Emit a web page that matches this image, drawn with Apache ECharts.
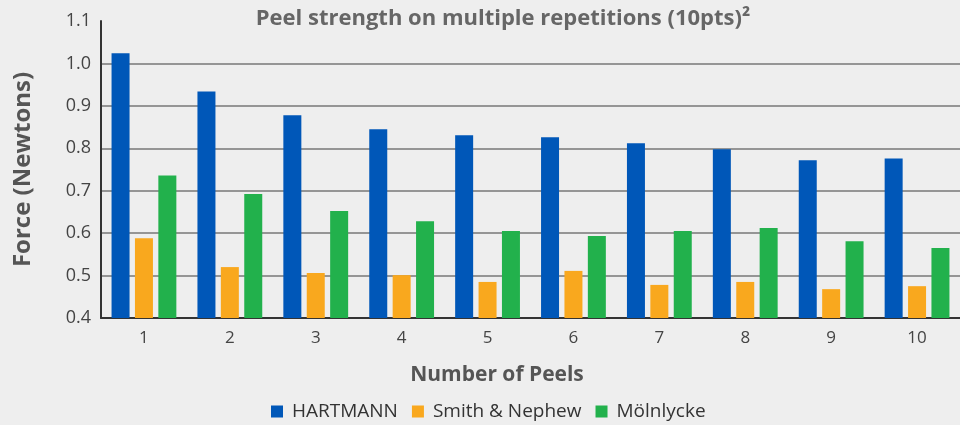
<!DOCTYPE html>
<html><head><meta charset="utf-8">
<script src="https://cdn.jsdelivr.net/npm/echarts@6/dist/echarts.min.js"></script>
<style>html,body{margin:0;padding:0;background:#eeeeee}#c{width:960px;height:425px}</style>
</head><body><div id="c"></div>
<script>
var categories = ['1','2','3','4','5','6','7','8','9','10'];
var hartmann = [1.024, 0.934, 0.878, 0.845, 0.831, 0.826, 0.812, 0.798, 0.772, 0.776];
var smithNephew = [0.588, 0.520, 0.506, 0.501, 0.485, 0.511, 0.478, 0.485, 0.468, 0.475];
var molnlycke = [0.736, 0.692, 0.652, 0.628, 0.605, 0.593, 0.605, 0.612, 0.581, 0.565];
var seriesNames = ['HARTMANN', 'Smith & Nephew', 'Mölnlycke'];
var colors = ['#0057B8', '#F9A81E', '#22B14C'];
var FONT = 'Open Sans';

var chart = echarts.init(document.getElementById('c'), null, {renderer: 'canvas'});
chart.setOption({
  backgroundColor: '#eeeeee',
  animation: false,
  color: colors,
  title: [{
    text: 'Peel strength on multiple repetitions (10pts)²',
    left: 498, textAlign: 'center', top: 3,
    textStyle: {fontFamily: FONT, fontWeight: 'bold', fontSize: 22, color: '#666666'}
  }, {
    text: 'Number of Peels',
    left: 492, textAlign: 'center', top: 360,
    textStyle: {fontFamily: FONT, fontWeight: 'bold', fontSize: 21, color: '#555555'}
  }],
  legend: {
    data: seriesNames,
    left: 266, top: 397,
    itemWidth: 12, itemHeight: 12, itemGap: 14,
    icon: 'rect',
    textStyle: {fontFamily: FONT, fontSize: 19, color: '#333333', padding: [0, 0, 0, 4]}
  },
  grid: {left: 101, right: -1, top: 21, bottom: 107, containLabel: false},
  xAxis: {
    type: 'category', data: categories,
    axisLine: {lineStyle: {color: '#333333', width: 2}},
    axisTick: {show: false},
    axisLabel: {fontFamily: FONT, fontSize: 17, color: '#444444', margin: 12}
  },
  yAxis: {
    type: 'value', min: 0.4, max: 1.1, interval: 0.1,
    name: 'Force (Newtons)', nameLocation: 'middle', nameGap: 66,
    nameTextStyle: {fontFamily: FONT, fontWeight: 'bold', fontSize: 24, color: '#555555'},
    axisLine: {show: true, lineStyle: {color: '#333333', width: 2}},
    axisTick: {show: false},
    axisLabel: {fontFamily: FONT, fontSize: 18, color: '#444444', margin: 10,
      formatter: function (v) { return v.toFixed(1); }},
    splitLine: {show: true, showMaxLine: false, lineStyle: {color: '#777777', width: 1.5}}
  },
  series: [
    {name: seriesNames[0], type: 'bar', data: hartmann, barWidth: 18, barGap: '30%'},
    {name: seriesNames[1], type: 'bar', data: smithNephew, barWidth: 18, barGap: '30%'},
    {name: seriesNames[2], type: 'bar', data: molnlycke, barWidth: 18, barGap: '30%'}
  ]
});
</script></body></html>
